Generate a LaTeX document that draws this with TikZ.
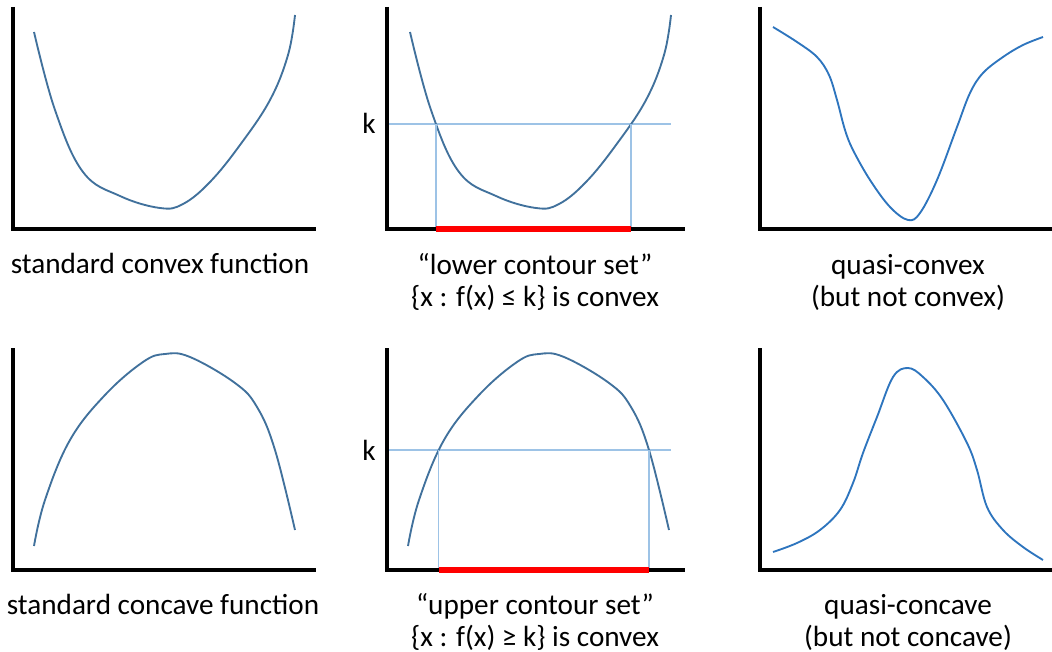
\documentclass[tikz,border=0pt]{standalone}
\usepackage{fontspec}
\setmainfont{Carlito}
\usetikzlibrary{intersections}
\definecolor{curvedark}{RGB}{65,113,156}
\definecolor{curvelight}{RGB}{46,117,190}
\definecolor{levelblue}{RGB}{157,195,230}
\definecolor{setred}{RGB}{255,0,0}

\begin{document}
\begin{tikzpicture}[x=0.75pt,y=-0.75pt,
  axis/.style={line width=2.6pt,line join=miter},
  curve/.style={line width=1.4pt,curvedark},
  qcurve/.style={line width=1.4pt,curvelight},
  level/.style={line width=1.1pt,levelblue},
  interval/.style={line width=5.2pt,setred},
  lbl/.style={font=\fontsize{21.9}{26}\selectfont,inner sep=0pt,anchor=base}]
\useasboundingbox (0,0) rectangle (1052,652);
% 标准凸函数
\draw[curve] plot[smooth,tension=0.65] coordinates {(34,32) (55,110) (83,172) (120,196)
  (160,208) (183,204) (210,182) (240,145) (270,100) (288,55) (295,15)};
\draw[axis] (13,7) -- (13,229) -- (316,229);
\node[lbl] (cvx) at (160,273) {standard convex function};
% 下等高集
\coordinate (o2) at (387,229);
\draw[level,name path=klo] (387,124) -- (671,124);
\begin{scope}[shift={(376,0)}]
\draw[curve,name path global=cvxb] plot[smooth,tension=0.65] coordinates {(34,32) (55,110) (83,172) (120,196)
  (160,208) (183,204) (210,182) (240,145) (270,100) (288,55) (295,15)};
\end{scope}
\path[name intersections={of=klo and cvxb,by={la,lb}}];
\draw[level] (la) -- (la |- o2);
\draw[level] (lb) -- (lb |- o2);
\draw[axis] (387,7) -- (o2) -- (685,229);
\draw[interval] (la |- o2) -- (lb |- o2);
\node[lbl] (klab) at (369,134) {k};
\node[lbl] (lower) at (535,274) {“lower contour set”};
\node[lbl] (lowerset) at (535,306) {\{x : f(x) ≤ k\} is convex};
% 拟凸
\draw[qcurve] plot[smooth,tension=0.6] coordinates {(773,27) (797,42) (817,57) (829,75) (837,100)
  (845,130) (853,150) (870,180) (890,207) (908,220) (920,213) (937,180) (957,127) (970,93)
  (983,73) (1003,57) (1023,45) (1043,37)};
\draw[axis] (760,7) -- (760,229) -- (1052,229);
\node[lbl] (qcvx) at (908,274) {quasi-convex};
\node[lbl] (qcvxb) at (908,306) {(but not convex)};
% 标准凹函数
\draw[curve] plot[smooth,tension=0.65] coordinates {(34,546) (45,500) (70,440) (105,395)
  (143,362) (165,354) (190,357) (235,383) (257,407) (275,450) (295,530)};
\draw[axis] (13,348) -- (13,570) -- (316,570);
\node[lbl] (ccv) at (163,614) {standard concave function};
% 上等高集
\coordinate (o5) at (387,570);
\draw[level,name path=kup] (387,450) -- (671,450);
\begin{scope}[shift={(374,0)}]
\draw[curve,name path global=ccvb] plot[smooth,tension=0.65] coordinates {(34,546) (45,500) (70,440) (105,395)
  (143,362) (165,354) (190,357) (235,383) (257,407) (275,450) (295,530)};
\end{scope}
\path[name intersections={of=kup and ccvb,by={ua,ub}}];
\draw[level] (ua) -- (ua |- o5);
\draw[level] (ub) -- (ub |- o5);
\draw[axis] (387,348) -- (o5) -- (685,570);
\draw[interval] (ua |- o5) -- (ub |- o5);
\node[lbl] (kup lab) at (369,460) {k};
\node[lbl] (upper) at (535,614) {“upper contour set”};
\node[lbl] (upperset) at (535,646) {\{x : f(x) ≥ k\} is convex};
% 拟凹
\draw[qcurve] plot[smooth,tension=0.6] coordinates {(773,552) (797,543) (820,530) (840,510) (853,483)
  (863,453) (877,417) (893,377) (908,368) (923,377) (943,400) (967,443) (977,470) (987,507)
  (1003,530) (1023,547) (1043,560)};
\draw[axis] (760,348) -- (760,570) -- (1052,570);
\node[lbl] (qccv) at (908,614) {quasi-concave};
\node[lbl] (qccvb) at (908,646) {(but not concave)};
\end{tikzpicture}
\end{document}
